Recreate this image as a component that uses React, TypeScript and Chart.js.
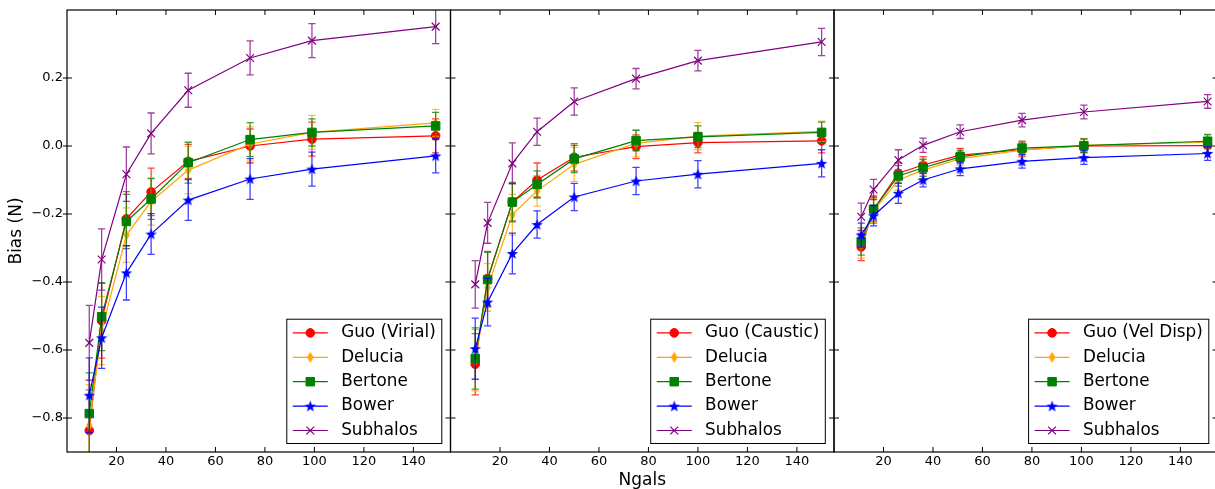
import React, { useEffect, useRef } from 'react';
import { Chart, registerables } from 'chart.js';
import { drawPoint } from 'chart.js/helpers';

Chart.register(...registerables);

// ---------- data ----------
const ngalsVirial = [9, 14, 24, 34, 49, 74, 99, 149];
const ngalsCaustic = [10, 15, 25, 35, 50, 75, 100, 150];
const ngalsVelDisp = [11, 16, 26, 36, 51, 76, 101, 151];

const guoLabels = ['Guo (Virial)', 'Guo (Caustic)', 'Guo (Vel Disp)'];
const otherLabels = ['Delucia', 'Bertone', 'Bower', 'Subhalos'];
const xTickValues = [20, 40, 60, 80, 100, 120, 140];
const yTickValues = [-0.8, -0.6, -0.4, -0.2, 0.0, 0.2];
const xTitle = 'Ngals';
const yTitle = 'Bias (N)';

// Panel 1: Virial
const virialGuo = [-0.837, -0.514, -0.214, -0.135, -0.045, 0.0, 0.02, 0.03];
const virialGuoErr = [0.12, 0.11, 0.08, 0.07, 0.05, 0.05, 0.05, 0.05];
const virialDelucia = [-0.822, -0.543, -0.262, -0.163, -0.071, 0.006, 0.04, 0.068];
const virialDeluciaErr = [0.12, 0.1, 0.08, 0.07, 0.07, 0.05, 0.05, 0.04];
const virialBertone = [-0.787, -0.502, -0.222, -0.156, -0.049, 0.019, 0.04, 0.059];
const virialBertoneErr = [0.12, 0.1, 0.08, 0.06, 0.06, 0.05, 0.04, 0.04];
const virialBower = [-0.733, -0.564, -0.373, -0.259, -0.159, -0.097, -0.068, -0.029];
const virialBowerErr = [0.11, 0.09, 0.08, 0.06, 0.06, 0.06, 0.05, 0.05];
const virialSubhalos = [-0.579, -0.334, -0.083, 0.037, 0.164, 0.259, 0.31, 0.351];
const virialSubhalosErr = [0.11, 0.09, 0.08, 0.06, 0.05, 0.05, 0.05, 0.05];

// Panel 2: Caustic
const causticGuo = [-0.642, -0.39, -0.165, -0.1, -0.033, -0.002, 0.01, 0.015];
const causticGuoErr = [0.09, 0.08, 0.055, 0.05, 0.04, 0.035, 0.03, 0.035];
const causticDelucia = [-0.63, -0.416, -0.202, -0.132, -0.054, 0.008, 0.029, 0.043];
const causticDeluciaErr = [0.09, 0.07, 0.06, 0.045, 0.05, 0.04, 0.04, 0.03];
const causticBertone = [-0.625, -0.393, -0.165, -0.113, -0.038, 0.016, 0.027, 0.04];
const causticBertoneErr = [0.09, 0.08, 0.058, 0.04, 0.04, 0.03, 0.032, 0.03];
const causticBower = [-0.596, -0.459, -0.316, -0.231, -0.15, -0.103, -0.083, -0.051];
const causticBowerErr = [0.09, 0.07, 0.06, 0.04, 0.04, 0.04, 0.04, 0.04];
const causticSubhalos = [-0.407, -0.226, -0.051, 0.042, 0.131, 0.198, 0.251, 0.306];
const causticSubhalosErr = [0.07, 0.06, 0.06, 0.04, 0.04, 0.03, 0.03, 0.04];

// Panel 3: Velocity dispersion
const velDispGuo = [-0.297, -0.187, -0.08, -0.056, -0.027, -0.011, 0.0, 0.001];
const velDispGuoErr = [0.04, 0.04, 0.03, 0.025, 0.02, 0.02, 0.02, 0.02];
const velDispDelucia = [-0.29, -0.19, -0.1, -0.071, -0.037, -0.012, 0.002, 0.011];
const velDispDeluciaErr = [0.04, 0.035, 0.03, 0.025, 0.02, 0.02, 0.02, 0.02];
const velDispBertone = [-0.281, -0.186, -0.088, -0.064, -0.032, -0.006, 0.001, 0.014];
const velDispBertoneErr = [0.04, 0.035, 0.03, 0.025, 0.02, 0.02, 0.02, 0.02];
const velDispBower = [-0.262, -0.205, -0.139, -0.1, -0.067, -0.045, -0.034, -0.022];
const velDispBowerErr = [0.035, 0.03, 0.03, 0.02, 0.02, 0.02, 0.02, 0.02];
const velDispSubhalos = [-0.208, -0.128, -0.041, 0.002, 0.042, 0.076, 0.1, 0.131];
const velDispSubhalosErr = [0.04, 0.03, 0.03, 0.021, 0.02, 0.02, 0.02, 0.02];

// ---------- styling ----------
const FONT = '"DejaVu Sans", "Liberation Sans", sans-serif';
const CW = 1240;
const CH = 489;
const PANEL_LEFT = [67, 450.5, 834];
const PANEL_RIGHT = [450.5, 834, 1217.5];
const COLORS = ['#ff0000', '#ffa500', '#008000', '#0000ff', '#800080'];
const ERR_COLORS = [
  'rgba(255,0,0,0.75)',
  'rgba(255,165,0,0.75)',
  'rgba(0,128,0,0.75)',
  'rgba(0,0,255,0.75)',
  'rgba(128,0,128,0.75)',
];

function makeStar(color: string) {
  const c = document.createElement('canvas');
  c.width = 13;
  c.height = 13;
  const g = c.getContext('2d')!;
  g.fillStyle = color;
  g.beginPath();
  for (let k = 0; k < 10; k++) {
    const r = k % 2 === 0 ? 6 : 2.5;
    const a = -Math.PI / 2 + (k * Math.PI) / 5;
    const px = 6.5 + r * Math.cos(a);
    const py = 7 + r * Math.sin(a);
    if (k === 0) g.moveTo(px, py);
    else g.lineTo(px, py);
  }
  g.closePath();
  g.fill();
  return c;
}

function makeThinDiamond(color: string) {
  const c = document.createElement('canvas');
  c.width = 9;
  c.height = 13;
  const g = c.getContext('2d')!;
  g.fillStyle = color;
  g.beginPath();
  g.moveTo(4.5, 1);
  g.lineTo(7.8, 6.5);
  g.lineTo(4.5, 12);
  g.lineTo(1.2, 6.5);
  g.closePath();
  g.fill();
  return c;
}

function fmtY(v: number) {
  return Number(v).toFixed(1).replace('-', '\u2212');
}

function buildChart(canvas: HTMLCanvasElement, p: number) {
  const xs = [ngalsVirial, ngalsCaustic, ngalsVelDisp][p];
  const vals = [
    [virialGuo, virialDelucia, virialBertone, virialBower, virialSubhalos],
    [causticGuo, causticDelucia, causticBertone, causticBower, causticSubhalos],
    [velDispGuo, velDispDelucia, velDispBertone, velDispBower, velDispSubhalos],
  ][p];
  const errs = [
    [virialGuoErr, virialDeluciaErr, virialBertoneErr, virialBowerErr, virialSubhalosErr],
    [causticGuoErr, causticDeluciaErr, causticBertoneErr, causticBowerErr, causticSubhalosErr],
    [velDispGuoErr, velDispDeluciaErr, velDispBertoneErr, velDispBowerErr, velDispSubhalosErr],
  ][p];
  const labels = [guoLabels[p], ...otherLabels];
  const markers: any[] = [
    { pointStyle: 'circle', radius: 4.3, borderWidth: 1 },
    { pointStyle: makeThinDiamond(COLORS[1]), radius: 5, borderWidth: 1 },
    { pointStyle: 'rect', radius: 6, borderWidth: 1 },
    { pointStyle: makeStar(COLORS[3]), radius: 5, borderWidth: 1 },
    { pointStyle: 'crossRot', radius: 5.5, borderWidth: 1.2 },
  ];

  const datasets = vals.map((arr, i) => ({
    label: labels[i],
    data: arr.map((v, j) => ({ x: xs[j], y: v })),
    errors: errs[i],
    errColor: ERR_COLORS[i],
    borderColor: COLORS[i],
    backgroundColor: COLORS[i],
    borderWidth: 1.2,
    pointStyle: markers[i].pointStyle,
    pointRadius: markers[i].radius,
    pointBorderWidth: markers[i].borderWidth,
    pointBackgroundColor: COLORS[i],
    pointBorderColor: COLORS[i],
    tension: 0,
    fill: false,
    clip: 0,
    order: -i,
  }));

  const decor = {
    id: 'decor' + p,
    beforeDatasetDraw(chart: any, args: any) {
      const ds = chart.data.datasets[args.index];
      const meta = args.meta;
      const ctx = chart.ctx;
      const area = chart.chartArea;
      const ys = chart.scales.y;
      ctx.save();
      ctx.beginPath();
      ctx.rect(area.left, area.top, area.right - area.left, area.bottom - area.top);
      ctx.clip();
      ctx.strokeStyle = ds.errColor;
      ctx.lineWidth = 1.3;
      meta.data.forEach((pt: any, i: number) => {
        const v = ds.data[i].y;
        const e = ds.errors[i];
        const y1 = ys.getPixelForValue(v + e);
        const y2 = ys.getPixelForValue(v - e);
        const x = pt.x;
        ctx.beginPath();
        ctx.moveTo(x, y1);
        ctx.lineTo(x, y2);
        ctx.moveTo(x - 3.6, y1);
        ctx.lineTo(x + 3.6, y1);
        ctx.moveTo(x - 3.6, y2);
        ctx.lineTo(x + 3.6, y2);
        ctx.stroke();
      });
      ctx.restore();
    },
    afterDraw(chart: any) {
      const ctx = chart.ctx;
      const area = chart.chartArea;
      const xsc = chart.scales.x;
      const ysc = chart.scales.y;
      ctx.save();
      // frame
      ctx.strokeStyle = '#000';
      ctx.lineWidth = 1.2;
      ctx.strokeRect(area.left, area.top, area.right - area.left, area.bottom - area.top);
      // ticks
      ctx.lineWidth = 1;
      ctx.beginPath();
      xTickValues.forEach((v) => {
        const px = xsc.getPixelForValue(v);
        ctx.moveTo(px, area.bottom);
        ctx.lineTo(px, area.bottom - 5);
        ctx.moveTo(px, area.top);
        ctx.lineTo(px, area.top + 5);
      });
      yTickValues.forEach((v) => {
        const py = ysc.getPixelForValue(v);
        ctx.moveTo(area.left - (p === 0 ? 4 : 0), py);
        ctx.lineTo(area.left + 5, py);
        ctx.moveTo(area.right, py);
        ctx.lineTo(area.right - 5, py);
      });
      ctx.stroke();

      // legend
      const fontPx = 16.8;
      ctx.font = `${fontPx}px ${FONT}`;
      const dsList = chart.data.datasets;
      let maxW = 0;
      dsList.forEach((d: any) => {
        maxW = Math.max(maxW, ctx.measureText(d.label).width);
      });
      const boxW = 6 + 35 + 13.4 + maxW + 6;
      const boxH = 124.3;
      const right = area.right - 8.7;
      const bottom = area.bottom - 8.5;
      const left = right - boxW;
      const top = bottom - boxH;
      ctx.fillStyle = '#fff';
      ctx.fillRect(left, top, boxW, boxH);
      ctx.strokeStyle = '#000';
      ctx.lineWidth = 1;
      ctx.strokeRect(left, top, boxW, boxH);
      dsList.forEach((d: any, i: number) => {
        const cy = top + 13.7 + i * 24.4;
        ctx.strokeStyle = d.borderColor;
        ctx.lineWidth = 1.2;
        ctx.beginPath();
        ctx.moveTo(left + 6, cy);
        ctx.lineTo(left + 41, cy);
        ctx.stroke();
        ctx.fillStyle = d.borderColor;
        ctx.strokeStyle = d.borderColor;
        ctx.lineWidth = d.pointBorderWidth;
        drawPoint(ctx, { pointStyle: d.pointStyle, radius: d.pointRadius, rotation: 0, borderWidth: d.pointBorderWidth } as any, left + 23.5, cy);
        ctx.fillStyle = '#000';
        ctx.textBaseline = 'middle';
        ctx.textAlign = 'left';
        ctx.fillText(d.label, left + 54.4, cy);
      });
      ctx.restore();
    },
  };

  return new Chart(canvas, {
    type: 'line',
    data: { datasets: datasets as any },
    options: {
      animation: false,
      responsive: false,
      devicePixelRatio: 1,
      events: [],
      layout: {
        padding: { left: p === 0 ? 0 : PANEL_LEFT[p], right: CW - PANEL_RIGHT[p], top: 10, bottom: 0 },
        autoPadding: false,
      } as any,
      plugins: { legend: { display: false }, tooltip: { enabled: false }, title: { display: false } },
      scales: {
        x: {
          type: 'linear',
          min: 0,
          max: 155,
          position: 'bottom',
          grid: { display: false, drawTicks: false },
          border: { display: false },
          afterBuildTicks: (s: any) => {
            s.ticks = xTickValues.map((v) => ({ value: v }));
          },
          afterFit: (s: any) => {
            s.height = 37;
            s.paddingLeft = 0;
            s.paddingRight = 0;
          },
          ticks: {
            color: '#000',
            font: { family: FONT, size: 13 },
            padding: 2,
            maxRotation: 0,
            autoSkip: false,
          },
          title: {
            display: p === 1,
            text: xTitle,
            color: '#000',
            font: { family: FONT, size: 17, lineHeight: 1 },
            padding: { top: 0, bottom: 0 },
          },
        },
        y: {
          type: 'linear',
          min: -0.9,
          max: 0.4,
          display: p === 0,
          grid: { display: false, drawTicks: false },
          border: { display: false },
          afterBuildTicks: (s: any) => {
            s.ticks = yTickValues.map((v) => ({ value: v }));
          },
          afterFit: (s: any) => {
            s.width = p === 0 ? 67 : 0;
            s.paddingTop = 0;
            s.paddingBottom = 0;
          },
          ticks: {
            color: '#000',
            font: { family: FONT, size: 13 },
            padding: 4,
            autoSkip: false,
            callback: (v: any) => fmtY(v),
          },
          title: {
            display: p === 0,
            text: yTitle,
            color: '#000',
            font: { family: FONT, size: 17 },
            padding: { top: 6.3, bottom: 0 },
          },
        },
      },
    } as any,
    plugins: [decor],
  });
}

export default function App() {
  const r0 = useRef<HTMLCanvasElement>(null);
  const r1 = useRef<HTMLCanvasElement>(null);
  const r2 = useRef<HTMLCanvasElement>(null);

  useEffect(() => {
    const charts = [r0, r1, r2].map((r, p) => buildChart(r.current!, p));
    return () => charts.forEach((c) => c.destroy());
  }, []);

  const cstyle: React.CSSProperties = { position: 'absolute', left: 0, top: 0, width: CW, height: CH };
  return (
    <div
      style={{
        position: 'absolute',
        left: 0,
        top: 0,
        width: 1215,
        height: 489,
        overflow: 'hidden',
        background: '#fff',
      }}
    >
      <canvas ref={r0} width={CW} height={CH} style={cstyle} />
      <canvas ref={r1} width={CW} height={CH} style={cstyle} />
      <canvas ref={r2} width={CW} height={CH} style={cstyle} />
    </div>
  );
}
